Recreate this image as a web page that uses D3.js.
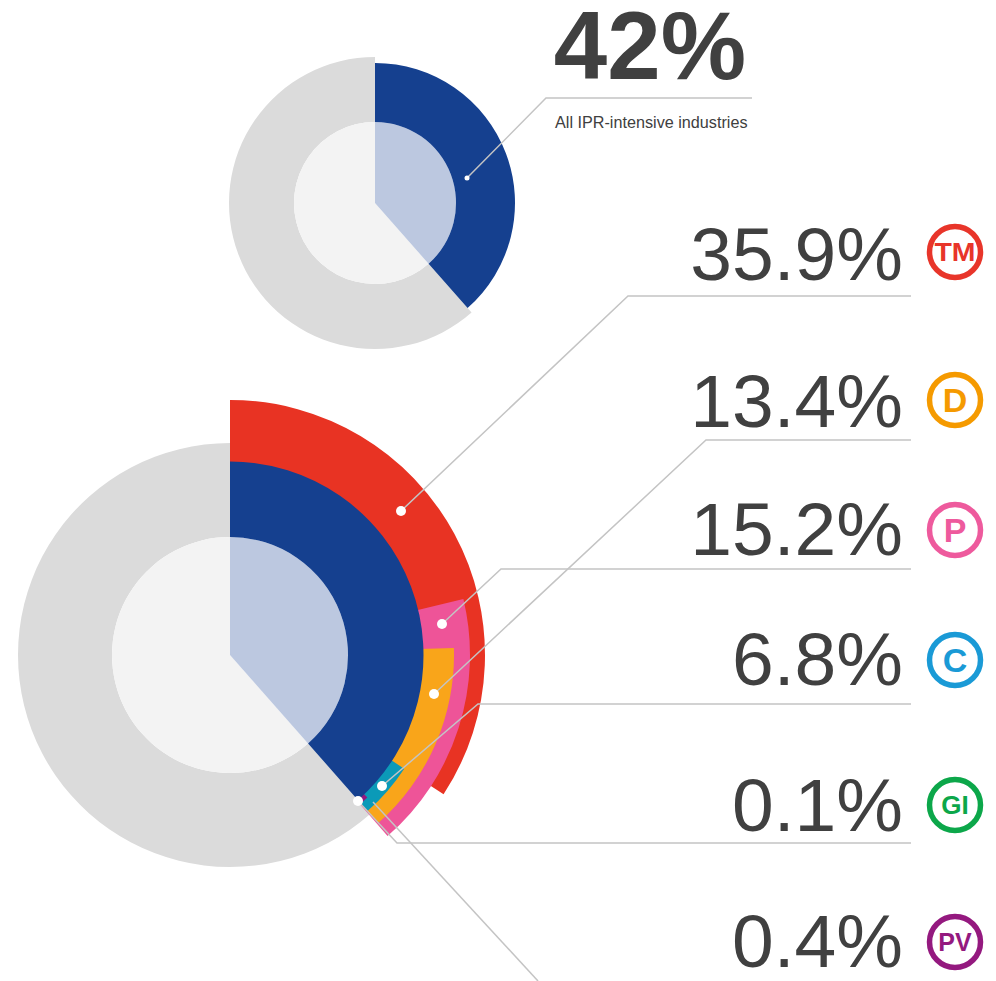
<!DOCTYPE html>
<html>
<head>
<meta charset="utf-8">
<script src="https://cdn.jsdelivr.net/npm/d3@7"></script>
<style>
  html, body { margin: 0; padding: 0; background: #fff; }
  text { font-family: "Liberation Sans", Arial, sans-serif; fill: #404040; }
</style>
</head>
<body>
<div class="chart"></div>
<script>
// declare global values
const WIDTH = 996;
const HEIGHT = 981;

// share of the whole circle each band sweeps (percent of 360 deg)
const topShare = 38.5;
const allShare = 38.5;
const bandNames = ["TM", "P", "D", "C", "PV"];
const bandStart = [0, 21.25, 24.5, 34.2, 37.8];
const bandEnd = [34.2, 38.6, 38.5, 38.5, 38.5];

// printed labels
const topLabel = "42%";
const topCaption = "All IPR-intensive industries";
const labelCodes = ["TM", "D", "P", "C", "GI", "PV"];
const labelValues = ["35.9%", "13.4%", "15.2%", "6.8%", "0.1%", "0.4%"];

const BLUE = "#15408f";
const GREY = "#dbdbdb";
const bandColors = { TM: "#e83323", P: "#ee5498", D: "#f9a51a", C: "#0b9ab8", PV: "#93187f" };
const badgeColors = { TM: "#e8352a", D: "#f59a00", P: "#ee5a9d", C: "#1a9ad6", GI: "#0ca74a", PV: "#94197f" };

const angle = d3.scaleLinear().domain([0, 100]).range([0, 2 * Math.PI]);
const arc = d3.arc();

const svg = d3
  .select(".chart")
  .append("svg")
  .attr("width", WIDTH)
  .attr("height", HEIGHT)
  .style("display", "block");

// one donut: grey remainder, blue share, pale centre
const DONUT = (cx, cy, share, greyR, blueR, innerR) => {
  const g = svg.append("g").attr("transform", "translate(" + cx + "," + cy + ")");
  const part = (r0, r1, from, to, fill) =>
    g.append("path")
      .attr("d", arc({ innerRadius: r0, outerRadius: r1, startAngle: angle(from), endAngle: angle(to) }))
      .attr("fill", fill);
  part(innerR, greyR, share, 100, GREY);
  part(0, innerR, share, 100, "#f3f3f3");
  part(0, innerR, 0, share, "#bcc8e0");
  return { g, drawBlue: () => part(innerR, blueR, 0, share, BLUE) };
};

DONUT(375, 203, topShare, 146, 140, 81).drawBlue();
const big = DONUT(230, 655, allShare, 212, 193.5, 118);

// coloured bands round the big donut, back to front
const bandOuter = { TM: 255, P: 240, D: 224, C: 208, PV: 198 };
bandNames.forEach((name, i) => {
  big.g.append("path")
    .attr("d", arc({
      innerRadius: 190,
      outerRadius: bandOuter[name],
      startAngle: angle(bandStart[i]),
      endAngle: angle(bandEnd[i]),
    }))
    .attr("fill", bandColors[name]);
});
big.drawBlue();

// leader lines
const leaders = [
  { pts: [[467, 178], [546, 98], [752, 98]], r: 2.5 },
  { pts: [[401, 511], [628, 296], [911, 296]], r: 5 },
  { pts: [[434, 694], [706, 440], [911, 440]], r: 5 },
  { pts: [[442, 624], [501, 569], [911, 569]], r: 5 },
  { pts: [[382, 786], [478, 704], [911, 704]], r: 5 },
  { pts: [[358, 801], [397, 843], [911, 843]], r: 5 },
  { pts: [[373, 802], [538, 981]], r: 0 },
];
const leaderLine = d3.line();
leaders.forEach((l) => {
  svg.append("path")
    .attr("d", leaderLine(l.pts))
    .attr("fill", "none")
    .attr("stroke", "#c4c4c4")
    .attr("stroke-width", 1.5);
});
leaders.filter((l) => l.r > 0).forEach((l) => {
  svg.append("circle")
    .attr("cx", l.pts[0][0])
    .attr("cy", l.pts[0][1])
    .attr("r", l.r)
    .attr("fill", "#fff");
});

// headline
svg.append("text")
  .attr("x", 746).attr("y", 79)
  .attr("text-anchor", "end")
  .attr("font-size", 96)
  .attr("font-weight", "bold")
  .text(topLabel);
svg.append("text")
  .attr("x", 555).attr("y", 128)
  .attr("font-size", 16.2)
  .text(topCaption);

// value labels and badges
const labelBase = [280, 427, 555, 685, 831, 967];
const badgeY = [252, 400, 530, 660, 805, 942];
const badgeFont = { TM: 25, D: 34, P: 34, C: 34, GI: 26, PV: 25 };
labelValues.forEach((v, i) => {
  const code = labelCodes[i];
  svg.append("text")
    .attr("x", 903).attr("y", labelBase[i])
    .attr("text-anchor", "end")
    .attr("font-size", 75)
    .text(v);
  svg.append("circle")
    .attr("cx", 955).attr("cy", badgeY[i])
    .attr("r", 25.5)
    .attr("fill", "#fff")
    .attr("stroke", badgeColors[code])
    .attr("stroke-width", 5.5);
  const t = svg.append("text")
    .attr("x", 955).attr("y", badgeY[i] + badgeFont[code] * 0.36)
    .attr("text-anchor", "middle")
    .attr("font-size", badgeFont[code])
    .attr("font-weight", "bold")
    .style("fill", badgeColors[code])
    .text(code);
  if (code === "TM") t.attr("textLength", 41).attr("lengthAdjust", "spacingAndGlyphs");
});
</script>
</body>
</html>
